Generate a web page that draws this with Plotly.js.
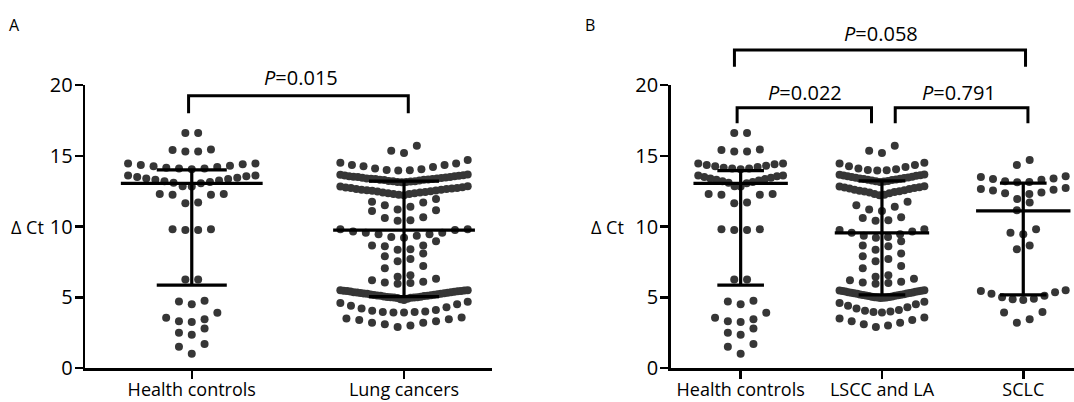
<!DOCTYPE html>
<html>
<head>
<meta charset="utf-8">
<script src="https://cdn.plot.ly/plotly-3.0.1.min.js"></script>
<style>html,body{margin:0;padding:0;background:#fff}#chart{width:1074px;height:402px}</style>
</head>
<body>
<div id="chart"></div>
<script>
// ---------- data ----------
const categoriesA = ['Health controls', 'Lung cancers'];
const categoriesB = ['Health controls', 'LSCC and LA', 'SCLC'];
const yTicks = [0, 5, 10, 15, 20];

const healthControls = [16.6, 16.6, 15.45, 15.4, 15.3, 15.3,
  14.45, 14.45, 14.4, 14.35, 14.3, 14.25, 14.2, 14.15, 14.1, 14.1, 14.05,
  13.6, 13.6, 13.55, 13.5, 13.45, 13.4, 13.35, 13.3, 13.25, 13.2, 13.15, 13.1, 13.05, 12.85, 12.82,
  12.3, 12.3, 12.25, 12.25, 11.7, 11.65,
  9.8, 9.8, 9.75, 9.75, 6.25, 6.25,
  4.75, 4.7, 4.5, 3.9, 3.55, 3.45, 3.3, 3.25, 2.8, 2.5, 2.35, 1.7, 1.5, 1.0];

const lsccAndLa = [15.7, 15.35, 15.2,
  14.5, 14.45, 14.35, 14.25, 14.2, 14.1, 14.05, 14.0, 13.97, 13.95,
  13.68, 13.66, 13.63, 13.6, 13.58, 13.55, 13.52, 13.5, 13.47, 13.45, 13.42, 13.4, 13.37, 13.35,
  13.32, 13.3, 13.28, 13.25, 13.22, 13.2, 13.18, 13.15,
  12.85, 12.82, 12.78, 12.75, 12.72, 12.68, 12.65, 12.6, 12.57, 12.53, 12.5, 12.47, 12.43, 12.4,
  12.35, 12.3, 12.25, 12.2,
  11.75, 11.5, 11.4, 11.2, 11.1,
  10.65, 10.6, 10.45, 10.4,
  9.8, 9.75, 9.65, 9.55, 9.45, 9.35, 9.25, 9.2,
  8.95, 8.65, 8.6, 8.35,
  8.1, 7.9, 7.7, 7.55,
  7.2, 7.05, 6.55, 6.45,
  6.3, 6.2, 6.1, 6.05, 6.0, 5.95,
  5.5, 5.48, 5.46, 5.44, 5.42, 5.4, 5.38, 5.36, 5.34, 5.32, 5.3, 5.28, 5.26, 5.24, 5.22,
  5.2, 5.18, 5.16, 5.14, 5.12, 5.1, 5.08, 5.06, 5.04, 5.02, 5.0, 4.99, 4.98, 4.96, 4.95,
  4.68, 4.6, 4.5, 4.4, 4.3, 4.2, 4.1, 4.05, 4.0, 3.95, 3.93,
  3.57, 3.5, 3.4, 3.3, 3.2, 3.1, 3.0, 2.9];

const sclc = [14.7, 14.35,
  13.55, 13.5, 13.4, 13.35, 13.3, 13.2, 13.15, 13.12,
  12.72, 12.65, 12.6, 12.55, 12.4, 12.35, 12.3, 11.95,
  11.7, 11.15,
  9.8, 9.55, 9.45,
  8.65, 8.4,
  5.5, 5.45, 5.35, 5.25, 5.1, 5.0, 4.9, 4.85, 4.8,
  3.95, 3.92, 3.45, 3.2];

const lungCancers = lsccAndLa.concat(sclc);

const medianA = [13.05, 9.75];
const q1A = [5.85, 5.05];
const q3A = [14.0, 13.2];
const medianB = [13.05, 9.55, 11.1];
const q1B = [5.85, 5.17, 5.17];
const q3B = [13.95, 13.23, 13.07];

const pTextA = ['0.015'];
const pTextB = ['0.022', '0.791', '0.058'];

// ---------- styling / geometry ----------
const FONT = '"Open Sans", "Noto Sans", Arial, sans-serif';
const W = 1074, MT = 85, MB = 34;
const PH = 402 - MT - MB;
const axA = {d0: 85.2, d1: 491.7, r: [-0.502, 1.413]};
const axB = {d0: 670.7, d1: 1074, r: [-0.495, 2.359]};
function ppu(ax) { return (ax.d1 - ax.d0) / (ax.r[1] - ax.r[0]); }
const pyToPaper = py => (402 - MB - py) / PH;

// Prism-like scatter-dot arrangement
function swarm(values, center, pxPerUnit) {
  const H = 0.79, SP = 12.8, HALF = 0.30 * pxPerUnit;
  const sorted = values.slice().sort((a, b) => b - a);
  const groups = []; let g = null;
  for (const v of sorted) {
    if (!g || g.max - v > H) { g = {max: v, vals: []}; groups.push(g); }
    g.vals.push(v);
  }
  const xs = [], ys = [];
  for (const gr of groups) {
    const vals = gr.vals.slice().sort((a, b) => a - b);
    const n = vals.length;
    const s = n > 1 ? Math.min(SP, 2 * HALF / (n - 1)) : 0;
    vals.forEach((v, i) => {
      let pos;
      if (n % 2 === 1) { const k = Math.ceil(i / 2); pos = i === 0 ? 0 : (i % 2 === 1 ? -k : k); }
      else { const k = Math.floor(i / 2) + 0.5; pos = (i % 2 === 0) ? -k : k; }
      xs.push(center + pos * s / pxPerUnit); ys.push(v);
    });
  }
  return {x: xs, y: ys};
}

const traces = [];
function addGroup(values, idx, ax, xr, yr) {
  const s = swarm(values, idx, ppu(ax));
  traces.push({type: 'scatter', mode: 'markers', x: s.x, y: s.y, xaxis: xr, yaxis: yr,
    marker: {size: 8, color: '#363636', line: {width: 0}}, cliponaxis: false, hoverinfo: 'skip'});
}
function addBars(med, q1, q3, xr, yr) {
  const x = [], y = [];
  med.forEach((m, i) => {
    x.push(i - 0.334, i + 0.334, null); y.push(m, m, null);
    x.push(i - 0.165, i + 0.165, null); y.push(q3[i], q3[i], null);
    x.push(i - 0.165, i + 0.165, null); y.push(q1[i], q1[i], null);
    x.push(i, i, null); y.push(q1[i], q3[i], null);
  });
  traces.push({type: 'scatter', mode: 'lines', x, y, xaxis: xr, yaxis: yr,
    line: {color: '#000', width: 3.2}, cliponaxis: false, hoverinfo: 'skip'});
}

addGroup(healthControls, 0, axA, 'x', 'y');
addGroup(lungCancers, 1, axA, 'x', 'y');
addGroup(healthControls, 0, axB, 'x2', 'y2');
addGroup(lsccAndLa, 1, axB, 'x2', 'y2');
addGroup(sclc, 2, axB, 'x2', 'y2');
addBars(medianA, q1A, q3A, 'x', 'y');
addBars(medianB, q1B, q3B, 'x2', 'y2');

// comparisons: [xref, leftX, rightX, topPy, legPy, labelX, labelPy, text]
const comps = [
  ['x', -0.015, 1.02, 95.7, 113.3, 0.515, 77.3, pTextA[0]],
  ['x2', -0.025, 0.926, 107.7, 123.3, 0.455, 92.2, pTextB[0]],
  ['x2', 1.094, 2.033, 107.7, 123.3, 1.545, 92.2, pTextB[1]],
  ['x2', -0.044, 2.016, 50, 66.7, 0.993, 33.3, pTextB[2]]
];
const shapes = comps.map(c => {
  const yt = pyToPaper(c[3]), yl = pyToPaper(c[4]);
  return {type: 'path', xref: c[0], yref: 'paper',
    path: `M ${c[1]},${yl} L ${c[1]},${yt} L ${c[2]},${yt} L ${c[2]},${yl}`,
    line: {color: '#000', width: 3}};
});
const annotations = comps.map(c => ({xref: c[0], yref: 'paper', x: c[5], y: pyToPaper(c[6]),
  text: '<i>P</i>=' + c[7], showarrow: false, xanchor: 'center', yanchor: 'middle',
  font: {family: FONT, size: 20, color: '#000'}}));
annotations.push({xref: 'paper', yref: 'paper', x: 14.4 / W, y: pyToPaper(25), text: 'A', showarrow: false,
  xanchor: 'center', yanchor: 'middle', font: {family: FONT, size: 16, color: '#000'}});
annotations.push({xref: 'paper', yref: 'paper', x: 590 / W, y: pyToPaper(25), text: 'B', showarrow: false,
  xanchor: 'center', yanchor: 'middle', font: {family: FONT, size: 16, color: '#000'}});
annotations.push({xref: 'paper', yref: 'y', x: 27 / W, y: 10, text: 'Δ Ct', showarrow: false,
  xanchor: 'center', yanchor: 'middle', font: {family: FONT, size: 18, color: '#000'}});
annotations.push({xref: 'paper', yref: 'y2', x: 607 / W, y: 10, text: 'Δ Ct', showarrow: false,
  xanchor: 'center', yanchor: 'middle', font: {family: FONT, size: 18, color: '#000'}});

const axisCommon = {showline: true, linecolor: '#000', linewidth: 2.5, ticks: 'outside', ticklen: 8,
  tickwidth: 2.5, tickcolor: '#000', showgrid: false, zeroline: false, fixedrange: true};
const xTickFont = {family: FONT, size: 18, color: '#000'};
const yTickFont = {family: FONT, size: 20, color: '#000'};

const layout = {
  width: W, height: 402, margin: {l: 0, r: 0, t: MT, b: MB},
  paper_bgcolor: '#fff', plot_bgcolor: '#fff', showlegend: false, hovermode: false,
  xaxis: Object.assign({}, axisCommon, {domain: [axA.d0 / W, axA.d1 / W], range: axA.r, tickfont: xTickFont,
    ticklabelstandoff: -4,
    tickmode: 'array', tickvals: categoriesA.map((c, i) => i), ticktext: categoriesA, anchor: 'y'}),
  yaxis: Object.assign({}, axisCommon, {range: [0, 20], tickmode: 'array', tickvals: yTicks, anchor: 'x',
    ticklabelstandoff: -2, tickfont: yTickFont}),
  xaxis2: Object.assign({}, axisCommon, {domain: [axB.d0 / W, 1], range: axB.r, tickfont: xTickFont,
    ticklabelstandoff: -4,
    tickmode: 'array', tickvals: categoriesB.map((c, i) => i), ticktext: categoriesB, anchor: 'y2'}),
  yaxis2: Object.assign({}, axisCommon, {range: [0, 20], tickmode: 'array', tickvals: yTicks, anchor: 'x2',
    ticklabelstandoff: -2, tickfont: yTickFont}),
  shapes, annotations
};

Plotly.newPlot('chart', traces, layout, {displayModeBar: false, staticPlot: true});
</script>
</body>
</html>
